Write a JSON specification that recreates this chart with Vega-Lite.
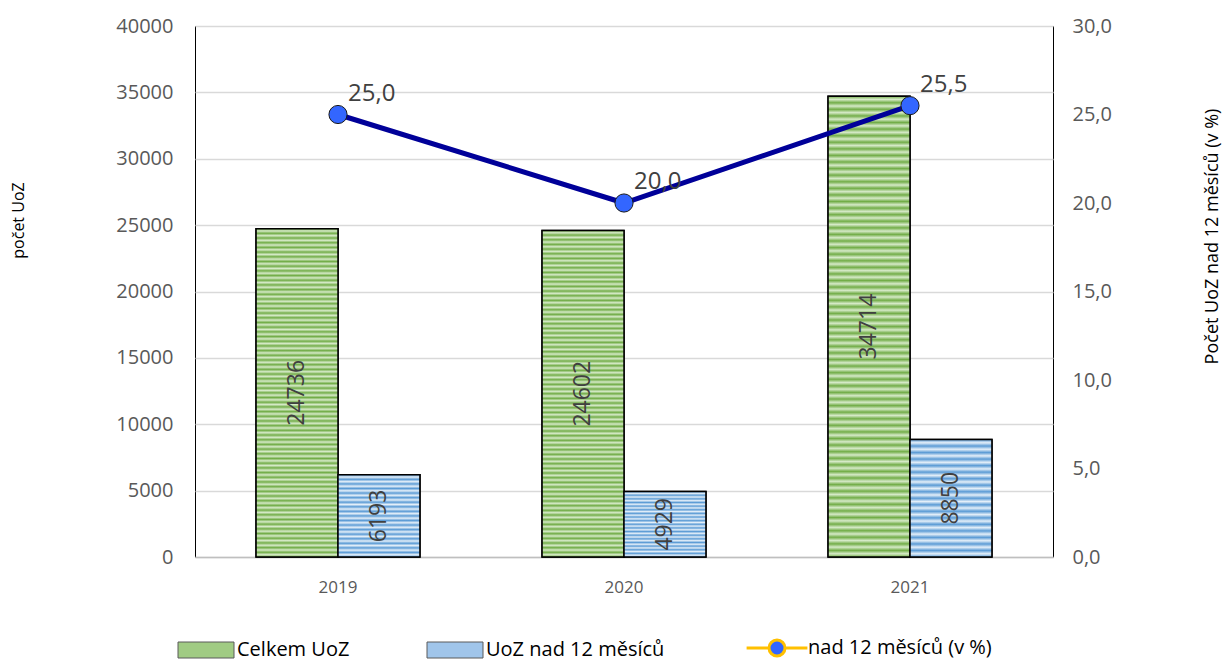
{
  "$schema": "https://vega.github.io/schema/vega-lite/v6.json",
  "autosize": {"type": "none"},
  "width": 858,
  "height": 531,
  "padding": {"left": 195, "top": 26, "right": 170, "bottom": 107},
  "background": "white",
  "config": {
    "view": {"stroke": "#000000", "strokeWidth": 1},
    "font": "Open Sans",
    "locale": {"number": {"decimal": ",", "thousands": " ", "grouping": [3], "currency": ["", ""]}}
  },
  "datasets": {
    "bars": [
      {"rok": "2019", "serie": "Celkem UoZ", "pocet": 24736},
      {"rok": "2019", "serie": "UoZ nad 12 měsíců", "pocet": 6193},
      {"rok": "2020", "serie": "Celkem UoZ", "pocet": 24602},
      {"rok": "2020", "serie": "UoZ nad 12 měsíců", "pocet": 4929},
      {"rok": "2021", "serie": "Celkem UoZ", "pocet": 34714},
      {"rok": "2021", "serie": "UoZ nad 12 měsíců", "pocet": 8850}
    ],
    "podil": [
      {"rok": "2019", "procento": 25.0},
      {"rok": "2020", "procento": 20.0},
      {"rok": "2021", "procento": 25.5}
    ]
  },
  "layer": [
    {
      "data": {"name": "bars"},
      "mark": {"type": "bar", "stroke": "#000000", "strokeWidth": 1.5},
      "encoding": {
        "x": {
          "field": "rok", "type": "nominal",
          "scale": {"paddingInner": 0.427, "paddingOuter": 0.2135},
          "axis": {"title": null, "labelAngle": 0, "ticks": false, "domainColor": "#bfbfbf", "domainWidth": 1.5, "labelPadding": 22, "labelFontSize": 17, "labelColor": "#595959"}
        },
        "xOffset": {"field": "serie", "type": "nominal", "scale": {"domain": ["Celkem UoZ", "UoZ nad 12 měsíců"], "paddingInner": 0}},
        "y": {
          "field": "pocet", "type": "quantitative",
          "scale": {"domain": [0, 40000], "nice": false},
          "axis": {
            "values": [0, 5000, 10000, 15000, 20000, 25000, 30000, 35000, 40000],
            "format": "d", "grid": true, "gridColor": "#d9d9d9", "gridWidth": 1.5,
            "ticks": false, "domain": false, "labelPadding": 22, "labelFontSize": 20, "labelColor": "#595959",
            "title": "počet UoZ", "titleX": -177, "titleY": 194, "titleAngle": 270, "titleBaseline": "middle",
            "titleFontSize": 16, "titleFontWeight": "normal", "titleColor": "#000000"
          }
        },
        "fill": {
          "field": "serie", "type": "nominal",
          "scale": {"domain": ["Celkem UoZ", "UoZ nad 12 měsíců", "nad 12 měsíců (v %)"], "range": ["#a0cb83", "#a0c5ea", "#3366ff"]},
          "legend": {
            "orient": "none", "legendX": 1, "legendY": 612, "direction": "horizontal", "columns": 3,
            "title": null, "labelFontSize": 20, "labelColor": "#000000", "labelLimit": 500, "symbolSize": 1024,
            "labelOffset": 21, "columnPadding": 75,
            "encoding": {
              "symbols": {
                "shape": {"value": {"expr": "datum.value === 'nad 12 měsíců (v %)' ? 'M-1.9,0H-0.5M0.5,0H1.9M0.5,0A0.5,0.5,0,1,1,-0.5,0A0.5,0.5,0,1,1,0.5,0Z' : 'M-1.75,-0.5H1.75V0.5H-1.75Z'"}},
                "stroke": {"value": {"expr": "datum.value === 'nad 12 měsíců (v %)' ? '#ffc000' : '#5a5a5a'"}},
                "strokeWidth": {"value": {"expr": "datum.value === 'nad 12 měsíců (v %)' ? 3 : 1"}},
                "opacity": {"value": 1}
              }
            }
          }
        }
      }
    },
    {
      "data": {"name": "bars"},
      "transform": [{"filter": "datum.serie === 'Celkem UoZ'"}],
      "mark": {
        "type": "bar", "stroke": "#000000", "strokeWidth": 1.5,
        "fill": {"gradient": "linear", "x1": 0, "y1": 0, "x2": 0, "y2": 1, "stops": [
          {"offset": 0, "color": "#72ad48"}, {"offset": 0.0071, "color": "#d6eac8"}, {"offset": 0.0143, "color": "#72ad48"}, {"offset": 0.0214, "color": "#d6eac8"}, {"offset": 0.0286, "color": "#72ad48"}, {"offset": 0.0357, "color": "#d6eac8"}, {"offset": 0.0429, "color": "#72ad48"}, {"offset": 0.05, "color": "#d6eac8"}, {"offset": 0.0571, "color": "#72ad48"}, {"offset": 0.0643, "color": "#d6eac8"}, {"offset": 0.0714, "color": "#72ad48"}, {"offset": 0.0786, "color": "#d6eac8"}, {"offset": 0.0857, "color": "#72ad48"}, {"offset": 0.0929, "color": "#d6eac8"},
          {"offset": 0.1, "color": "#72ad48"}, {"offset": 0.1071, "color": "#d6eac8"}, {"offset": 0.1143, "color": "#72ad48"}, {"offset": 0.1214, "color": "#d6eac8"}, {"offset": 0.1286, "color": "#72ad48"}, {"offset": 0.1357, "color": "#d6eac8"}, {"offset": 0.1429, "color": "#72ad48"}, {"offset": 0.15, "color": "#d6eac8"}, {"offset": 0.1571, "color": "#72ad48"}, {"offset": 0.1643, "color": "#d6eac8"}, {"offset": 0.1714, "color": "#72ad48"}, {"offset": 0.1786, "color": "#d6eac8"}, {"offset": 0.1857, "color": "#72ad48"}, {"offset": 0.1929, "color": "#d6eac8"},
          {"offset": 0.2, "color": "#72ad48"}, {"offset": 0.2071, "color": "#d6eac8"}, {"offset": 0.2143, "color": "#72ad48"}, {"offset": 0.2214, "color": "#d6eac8"}, {"offset": 0.2286, "color": "#72ad48"}, {"offset": 0.2357, "color": "#d6eac8"}, {"offset": 0.2429, "color": "#72ad48"}, {"offset": 0.25, "color": "#d6eac8"}, {"offset": 0.2571, "color": "#72ad48"}, {"offset": 0.2643, "color": "#d6eac8"}, {"offset": 0.2714, "color": "#72ad48"}, {"offset": 0.2786, "color": "#d6eac8"}, {"offset": 0.2857, "color": "#72ad48"}, {"offset": 0.2929, "color": "#d6eac8"},
          {"offset": 0.3, "color": "#72ad48"}, {"offset": 0.3071, "color": "#d6eac8"}, {"offset": 0.3143, "color": "#72ad48"}, {"offset": 0.3214, "color": "#d6eac8"}, {"offset": 0.3286, "color": "#72ad48"}, {"offset": 0.3357, "color": "#d6eac8"}, {"offset": 0.3429, "color": "#72ad48"}, {"offset": 0.35, "color": "#d6eac8"}, {"offset": 0.3571, "color": "#72ad48"}, {"offset": 0.3643, "color": "#d6eac8"}, {"offset": 0.3714, "color": "#72ad48"}, {"offset": 0.3786, "color": "#d6eac8"}, {"offset": 0.3857, "color": "#72ad48"}, {"offset": 0.3929, "color": "#d6eac8"},
          {"offset": 0.4, "color": "#72ad48"}, {"offset": 0.4071, "color": "#d6eac8"}, {"offset": 0.4143, "color": "#72ad48"}, {"offset": 0.4214, "color": "#d6eac8"}, {"offset": 0.4286, "color": "#72ad48"}, {"offset": 0.4357, "color": "#d6eac8"}, {"offset": 0.4429, "color": "#72ad48"}, {"offset": 0.45, "color": "#d6eac8"}, {"offset": 0.4571, "color": "#72ad48"}, {"offset": 0.4643, "color": "#d6eac8"}, {"offset": 0.4714, "color": "#72ad48"}, {"offset": 0.4786, "color": "#d6eac8"}, {"offset": 0.4857, "color": "#72ad48"}, {"offset": 0.4929, "color": "#d6eac8"},
          {"offset": 0.5, "color": "#72ad48"}, {"offset": 0.5071, "color": "#d6eac8"}, {"offset": 0.5143, "color": "#72ad48"}, {"offset": 0.5214, "color": "#d6eac8"}, {"offset": 0.5286, "color": "#72ad48"}, {"offset": 0.5357, "color": "#d6eac8"}, {"offset": 0.5429, "color": "#72ad48"}, {"offset": 0.55, "color": "#d6eac8"}, {"offset": 0.5571, "color": "#72ad48"}, {"offset": 0.5643, "color": "#d6eac8"}, {"offset": 0.5714, "color": "#72ad48"}, {"offset": 0.5786, "color": "#d6eac8"}, {"offset": 0.5857, "color": "#72ad48"}, {"offset": 0.5929, "color": "#d6eac8"},
          {"offset": 0.6, "color": "#72ad48"}, {"offset": 0.6071, "color": "#d6eac8"}, {"offset": 0.6143, "color": "#72ad48"}, {"offset": 0.6214, "color": "#d6eac8"}, {"offset": 0.6286, "color": "#72ad48"}, {"offset": 0.6357, "color": "#d6eac8"}, {"offset": 0.6429, "color": "#72ad48"}, {"offset": 0.65, "color": "#d6eac8"}, {"offset": 0.6571, "color": "#72ad48"}, {"offset": 0.6643, "color": "#d6eac8"}, {"offset": 0.6714, "color": "#72ad48"}, {"offset": 0.6786, "color": "#d6eac8"}, {"offset": 0.6857, "color": "#72ad48"}, {"offset": 0.6929, "color": "#d6eac8"},
          {"offset": 0.7, "color": "#72ad48"}, {"offset": 0.7071, "color": "#d6eac8"}, {"offset": 0.7143, "color": "#72ad48"}, {"offset": 0.7214, "color": "#d6eac8"}, {"offset": 0.7286, "color": "#72ad48"}, {"offset": 0.7357, "color": "#d6eac8"}, {"offset": 0.7429, "color": "#72ad48"}, {"offset": 0.75, "color": "#d6eac8"}, {"offset": 0.7571, "color": "#72ad48"}, {"offset": 0.7643, "color": "#d6eac8"}, {"offset": 0.7714, "color": "#72ad48"}, {"offset": 0.7786, "color": "#d6eac8"}, {"offset": 0.7857, "color": "#72ad48"}, {"offset": 0.7929, "color": "#d6eac8"},
          {"offset": 0.8, "color": "#72ad48"}, {"offset": 0.8071, "color": "#d6eac8"}, {"offset": 0.8143, "color": "#72ad48"}, {"offset": 0.8214, "color": "#d6eac8"}, {"offset": 0.8286, "color": "#72ad48"}, {"offset": 0.8357, "color": "#d6eac8"}, {"offset": 0.8429, "color": "#72ad48"}, {"offset": 0.85, "color": "#d6eac8"}, {"offset": 0.8571, "color": "#72ad48"}, {"offset": 0.8643, "color": "#d6eac8"}, {"offset": 0.8714, "color": "#72ad48"}, {"offset": 0.8786, "color": "#d6eac8"}, {"offset": 0.8857, "color": "#72ad48"}, {"offset": 0.8929, "color": "#d6eac8"},
          {"offset": 0.9, "color": "#72ad48"}, {"offset": 0.9071, "color": "#d6eac8"}, {"offset": 0.9143, "color": "#72ad48"}, {"offset": 0.9214, "color": "#d6eac8"}, {"offset": 0.9286, "color": "#72ad48"}, {"offset": 0.9357, "color": "#d6eac8"}, {"offset": 0.9429, "color": "#72ad48"}, {"offset": 0.95, "color": "#d6eac8"}, {"offset": 0.9571, "color": "#72ad48"}, {"offset": 0.9643, "color": "#d6eac8"}, {"offset": 0.9714, "color": "#72ad48"}, {"offset": 0.9786, "color": "#d6eac8"}, {"offset": 0.9857, "color": "#72ad48"}, {"offset": 0.9929, "color": "#d6eac8"},
          {"offset": 1, "color": "#72ad48"}
        ]}
      },
      "encoding": {
        "x": {"field": "rok", "type": "nominal"},
        "xOffset": {"field": "serie", "type": "nominal"},
        "y": {"field": "pocet", "type": "quantitative", "scale": {"domain": [0, 40000], "nice": false}, "axis": null}
      }
    },
    {
      "data": {"name": "bars"},
      "transform": [{"filter": "datum.serie === 'UoZ nad 12 měsíců'"}],
      "mark": {
        "type": "bar", "stroke": "#000000", "strokeWidth": 1.5,
        "fill": {"gradient": "linear", "x1": 0, "y1": 0, "x2": 0, "y2": 1, "stops": [
          {"offset": 0, "color": "#5b9bd5"}, {"offset": 0.0278, "color": "#e4eff9"}, {"offset": 0.0556, "color": "#5b9bd5"}, {"offset": 0.0833, "color": "#e4eff9"}, {"offset": 0.1111, "color": "#5b9bd5"}, {"offset": 0.1389, "color": "#e4eff9"}, {"offset": 0.1667, "color": "#5b9bd5"}, {"offset": 0.1944, "color": "#e4eff9"}, {"offset": 0.2222, "color": "#5b9bd5"}, {"offset": 0.25, "color": "#e4eff9"}, {"offset": 0.2778, "color": "#5b9bd5"}, {"offset": 0.3056, "color": "#e4eff9"}, {"offset": 0.3333, "color": "#5b9bd5"}, {"offset": 0.3611, "color": "#e4eff9"}, {"offset": 0.3889, "color": "#5b9bd5"}, {"offset": 0.4167, "color": "#e4eff9"}, {"offset": 0.4444, "color": "#5b9bd5"}, {"offset": 0.4722, "color": "#e4eff9"}, {"offset": 0.5, "color": "#5b9bd5"}, {"offset": 0.5278, "color": "#e4eff9"}, {"offset": 0.5556, "color": "#5b9bd5"}, {"offset": 0.5833, "color": "#e4eff9"}, {"offset": 0.6111, "color": "#5b9bd5"}, {"offset": 0.6389, "color": "#e4eff9"}, {"offset": 0.6667, "color": "#5b9bd5"}, {"offset": 0.6944, "color": "#e4eff9"}, {"offset": 0.7222, "color": "#5b9bd5"}, {"offset": 0.75, "color": "#e4eff9"}, {"offset": 0.7778, "color": "#5b9bd5"}, {"offset": 0.8056, "color": "#e4eff9"}, {"offset": 0.8333, "color": "#5b9bd5"}, {"offset": 0.8611, "color": "#e4eff9"}, {"offset": 0.8889, "color": "#5b9bd5"}, {"offset": 0.9167, "color": "#e4eff9"}, {"offset": 0.9444, "color": "#5b9bd5"}, {"offset": 0.9722, "color": "#e4eff9"}, {"offset": 1, "color": "#5b9bd5"}
        ]}
      },
      "encoding": {
        "x": {"field": "rok", "type": "nominal"},
        "xOffset": {"field": "serie", "type": "nominal"},
        "y": {"field": "pocet", "type": "quantitative", "scale": {"domain": [0, 40000], "nice": false}, "axis": null}
      }
    },
    {
      "data": {"name": "bars"},
      "mark": {"type": "text", "angle": 270, "align": "center", "baseline": "middle", "fontSize": 23, "color": "#404040"},
      "encoding": {
        "x": {"field": "rok", "type": "nominal"},
        "xOffset": {"field": "serie", "type": "nominal"},
        "y": {"field": "pocet", "type": "quantitative", "scale": {"domain": [0, 80000], "nice": false}, "axis": null},
        "text": {"field": "pocet", "type": "quantitative", "format": "d"}
      }
    },
    {
      "data": {"name": "podil"},
      "encoding": {
        "x": {"field": "rok", "type": "nominal"},
        "y": {
          "field": "procento", "type": "quantitative",
          "scale": {"domain": [0, 30], "nice": false},
          "axis": {
            "orient": "right", "values": [0, 5, 10, 15, 20, 25, 30], "format": ".1f",
            "grid": false, "ticks": false, "domain": false, "labelPadding": 19, "labelFontSize": 20, "labelColor": "#595959",
            "title": "Počet UoZ nad 12 měsíců (v %)", "titleX": 159, "titleY": 210, "titleAngle": 270, "titleBaseline": "middle",
            "titleFontSize": 18, "titleFontWeight": "normal", "titleColor": "#000000"
          }
        }
      },
      "layer": [
        {"mark": {"type": "line", "stroke": "#000099", "strokeWidth": 5}},
        {"mark": {"type": "point", "shape": "circle", "filled": true, "size": 330, "fill": "#3366ff", "stroke": "#1a1a1a", "strokeWidth": 1, "opacity": 1}},
        {"mark": {"type": "text", "align": "left", "baseline": "bottom", "dx": 10, "dy": -9, "fontSize": 24, "color": "#404040"},
         "encoding": {"text": {"field": "procento", "type": "quantitative", "format": ".1f"}}}
      ]
    }
  ],
  "resolve": {"scale": {"y": "independent"}}
}
